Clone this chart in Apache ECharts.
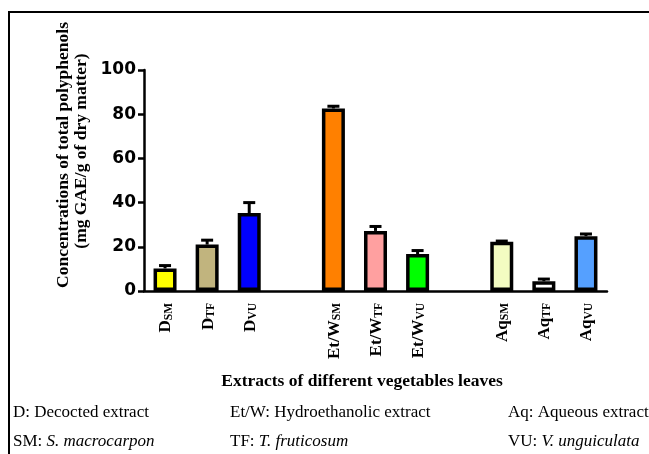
<!DOCTYPE html>
<html>
<head>
<meta charset="utf-8">
<script src="https://cdn.jsdelivr.net/npm/echarts@6/dist/echarts.min.js"></script>
<style>
  html, body { margin: 0; padding: 0; background: #fff; }
  #chart { width: 649px; height: 454px; }
</style>
</head>
<body>
<div id="chart"></div>
<script>
// extracts: main name | subscript, blank entries are the gaps between groups
var categories = ['D|SM', 'D|TF', 'D|VU', ' ', 'Et/W|SM', 'Et/W|TF', 'Et/W|VU', '  ', 'Aq|SM', 'Aq|TF', 'Aq|VU']
var means = [10.2, 21, 35.3, null, 82.6, 27.2, 16.7, null, 22.3, 4.4, 24.8]
var errors = [1.3, 2, 4.7, null, 1, 2, 1.6, null, 0.3, 1, 1]
var colors = ['#ffff00', '#c1b47e', '#0000ff', '#fff', '#ff8000', '#ffa0a0', '#00ff00', '#fff', '#f3fcc2', '#ffffff', '#55a0ff']
var yTicks = [0, 20, 40, 60, 80, 100]

var serif = '"Liberation Serif", "Times New Roman", serif'

var chart = echarts.init(document.getElementById('chart'))

var barData = means.map(function (v, i) {
  return { value: v, itemStyle: { color: colors[i] } }
})
var errData = []
means.forEach(function (v, i) {
  if (v !== null) errData.push([i, v, errors[i]])
})

function isGap(v) {
  return v.trim() === ''
}

function note(x, y, label, italic) {
  return {
    type: 'text', x: x, y: y,
    style: {
      text: '{n|' + label + '}' + (italic ? '{i|' + italic + '}' : ''),
      verticalAlign: 'middle',
      rich: {
        n: { font: '17px ' + serif, fill: '#000' },
        i: { font: 'italic 17px ' + serif, fill: '#000' },
      },
    },
  }
}

option = {
  animation: false,
  grid: {
    left: 144,
    right: 42,
    top: 70,
    bottom: 163,
    outerBoundsMode: 'none',
  },
  xAxis: {
    type: 'category',
    data: categories,
    axisLine: { lineStyle: { color: '#000', width: 2.5 } },
    axisTick: {
      alignWithLabel: true,
      length: 6,
      lineStyle: { color: '#000', width: 2.5 },
      interval: function (i, v) { return !isGap(v) },
    },
    axisLabel: {
      interval: 0,
      rotate: 90,
      margin: 12,
      formatter: function (v) {
        if (isGap(v)) return ''
        var p = v.split('|')
        return '{m|' + p[0] + '}{s|' + p[1] + '}'
      },
      rich: {
        m: { fontFamily: serif, fontWeight: 'bold', fontSize: 17, color: '#000', lineHeight: 19, verticalAlign: 'bottom' },
        s: { fontFamily: serif, fontWeight: 'bold', fontSize: 11.5, color: '#000', verticalAlign: 'bottom' },
      },
    },
  },
  yAxis: {
    type: 'value',
    min: yTicks[0],
    max: yTicks[yTicks.length - 1],
    interval: yTicks[1] - yTicks[0],
    splitLine: { show: false },
    axisLine: { show: true, lineStyle: { color: '#000', width: 2.5 } },
    axisTick: { show: true, length: 6, lineStyle: { color: '#000', width: 2.5 } },
    axisLabel: {
      margin: 8,
      color: '#000',
      fontFamily: '"DejaVu Sans", Arial, sans-serif',
      fontWeight: 'bold',
      fontSize: 17,
    },
  },
  series: [
    {
      name: 'mean',
      type: 'bar',
      barWidth: 23,
      data: barData,
      itemStyle: { borderColor: '#000', borderWidth: 3.5 },
    },
    {
      name: 'sd',
      type: 'custom',
      z: 5,
      encode: { x: 0, y: 1 },
      data: errData,
      renderItem: function (params, api) {
        var x = api.value(0)
        var y = api.value(1)
        var e = api.value(2)
        var base = api.coord([x, y])
        var top = api.coord([x, y + e])
        return {
          type: 'group',
          children: [
            { type: 'line', shape: { x1: base[0], y1: base[1], x2: top[0], y2: top[1] }, style: { stroke: '#000', lineWidth: 3 } },
            { type: 'line', shape: { x1: top[0] - 6, y1: top[1], x2: top[0] + 6, y2: top[1] }, style: { stroke: '#000', lineWidth: 3 } },
          ],
        }
      },
    },
  ],
  graphic: [
    // frame
    { type: 'polyline', shape: { points: [[9, 454], [9, 12], [649, 12]] }, style: { stroke: '#000', lineWidth: 2, fill: null } },
    // y axis title
    {
      type: 'text', x: 63, y: 155, rotation: Math.PI / 2,
      style: { text: 'Concentrations of total polyphenols', font: 'bold 17.5px ' + serif, fill: '#000', align: 'center', verticalAlign: 'middle' },
    },
    {
      type: 'text', x: 81, y: 151, rotation: Math.PI / 2,
      style: { text: '(mg GAE/g of dry matter)', font: 'bold 17.5px ' + serif, fill: '#000', align: 'center', verticalAlign: 'middle' },
    },
    // x axis title
    {
      type: 'text', x: 362, y: 381,
      style: { text: 'Extracts of different vegetables leaves', font: 'bold 17.5px ' + serif, fill: '#000', align: 'center', verticalAlign: 'middle' },
    },
    // footnotes
    note(13, 413, 'D: Decocted extract'),
    note(230, 413, 'Et/W: Hydroethanolic extract'),
    note(508, 413, 'Aq: Aqueous extract'),
    note(13, 442, 'SM: ', 'S. macrocarpon'),
    note(230, 442, 'TF: ', 'T. fruticosum'),
    note(508, 442, 'VU: ', 'V. unguiculata'),
  ],
}
chart.setOption(option)

window.addEventListener('resize', function () {
  chart.resize()
})
</script>
</body>
</html>
